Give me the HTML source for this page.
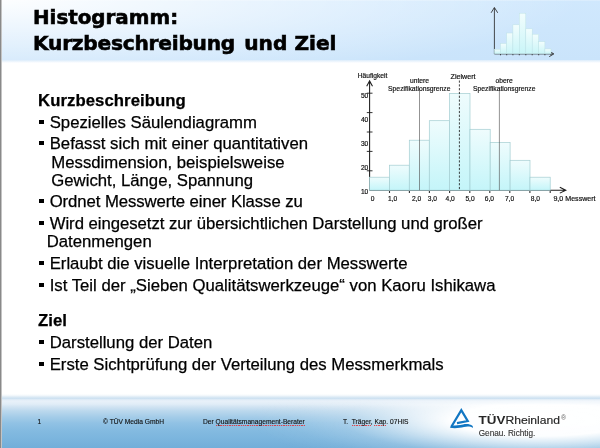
<!DOCTYPE html>
<html lang="de">
<head>
<meta charset="utf-8">
<title>Histogramm: Kurzbeschreibung und Ziel</title>
<style>
html,body{margin:0;padding:0;}
body{width:600px;height:448px;overflow:hidden;background:#fff;font-family:"Liberation Sans",sans-serif;color:#000;}
#slide{position:relative;width:600px;height:448px;overflow:hidden;background:#fff;}
#edge{position:absolute;left:0;top:0;width:3px;height:448px;background:linear-gradient(to right,#878787 0,#8c8c8c 1px,#c4c4c4 1.5px,rgba(230,230,230,.5) 2px,rgba(255,255,255,0) 2.4px);z-index:5;}
#head{position:absolute;left:0;top:0;width:600px;height:59.5px;background:linear-gradient(to bottom,rgba(255,255,255,.35) 0,rgba(255,255,255,0) 1.5px),radial-gradient(ellipse 580px 84px at 0 0,rgba(255,255,255,.95),rgba(255,255,255,0)),linear-gradient(to bottom,#d0e8fd,#cae4fb);}
#headfade{position:absolute;left:0;top:59.5px;width:600px;height:3px;background:linear-gradient(to bottom,#dcecfb,#fff);}
h1{position:absolute;margin:0;left:33.2px;top:5.8px;font-family:"DejaVu Sans","Liberation Sans",sans-serif;font-weight:bold;font-size:20.1px;line-height:25.8px;white-space:nowrap;-webkit-text-stroke:0.6px #000;}
h1 span{display:block;transform-origin:0 0;}
h1 span.w{display:inline;letter-spacing:-.23px;margin-right:2.2px;}
h1 .l1{transform:translateY(-.6px) scaleX(.988);}
h1 .l2{transform:translateY(-.9px) scaleX(1.003);}
.t{-webkit-text-stroke:.25px #000;position:absolute;white-space:nowrap;font-size:16.73px;line-height:20px;height:20px;}
.b{font-weight:bold;letter-spacing:.07px;}
.bul{position:absolute;width:4.5px;height:4.5px;background:#000;left:39px;margin-top:-.1px;}
#foot{position:absolute;left:0;top:394px;width:600px;height:54px;
 background:linear-gradient(to bottom,#fff 0,#f2f7fb 1.5px,#dceaf5 3px,#cde1f1 4.4px,#deebf6 5.6px,#e8f1f9 7px,#e1edf7 10px,#d0e3f2 13px,#bbd8ed 17px,#a4cce8 23px,#91c2e4 29px,#83bae0 37px,#7ab4dd 46px,#72aed9 54px);}
#footglow{position:absolute;left:0;top:394px;width:600px;height:54px;
 background:radial-gradient(ellipse 290px 52px at 540px 26px,rgba(255,255,255,1) 0,rgba(255,255,255,.98) 31%,rgba(255,255,255,.62) 48%,rgba(255,255,255,.4) 58%,rgba(255,255,255,.2) 68%,rgba(255,255,255,.06) 85%,rgba(255,255,255,0) 100%);
 -webkit-mask-image:linear-gradient(to bottom,transparent 0,transparent 4.4px,rgba(0,0,0,.55) 7px,#000 11px);mask-image:linear-gradient(to bottom,transparent 0,transparent 4.4px,rgba(0,0,0,.55) 7px,#000 11px);}
.f{position:absolute;white-space:nowrap;font-size:6.67px;line-height:10px;top:417.2px;color:#111;-webkit-text-stroke:.12px #111;}
.sq{background:repeating-linear-gradient(90deg,#e8262a 0,#e8262a 1px,rgba(232,38,42,.25) 1px,rgba(232,38,42,.25) 1.8px) 0 6.9px/100% .8px no-repeat;}
svg{position:absolute;left:0;top:0;}
svg text{font-family:"Liberation Sans",sans-serif;}
</style>
</head>
<body>
<div id="slide">
  <div id="head"></div>
  <div id="headfade"></div>
  <h1><span class="l1">Histogramm:</span><span class="l2"><span class="w">Kurzbeschreibung</span> und Ziel</span></h1>

  <div class="t b" style="left:38px;top:90.7px">Kurzbeschreibung</div>
  <i class="bul" style="top:120.0px"></i><div class="t" style="left:49.7px;top:112.7px">Spezielles Säulendiagramm</div>
  <i class="bul" style="top:141.0px"></i><div class="t" style="left:49.7px;top:133.7px">Befasst sich mit einer quantitativen</div>
  <div class="t" style="left:51.3px;top:152.7px">Messdimension, beispielsweise</div>
  <div class="t" style="left:51.3px;top:170.7px">Gewicht, Länge, Spannung</div>
  <i class="bul" style="top:199.0px"></i><div class="t" style="left:49.7px;top:191.7px;letter-spacing:-.08px">Ordnet Messwerte einer Klasse zu</div>
  <i class="bul" style="top:221.0px"></i><div class="t" style="left:49.7px;top:213.7px;letter-spacing:-.035px">Wird eingesetzt zur übersichtlichen Darstellung und großer</div>
  <div class="t" style="left:46.7px;top:231.7px">Datenmengen</div>
  <i class="bul" style="top:261.0px"></i><div class="t" style="left:49.7px;top:253.7px">Erlaubt die visuelle Interpretation der Messwerte</div>
  <i class="bul" style="top:283.0px"></i><div class="t" style="left:49.7px;top:275.7px">Ist Teil der „Sieben Qualitätswerkzeuge“ von Kaoru Ishikawa</div>

  <div class="t b" style="left:38px;top:310.7px">Ziel</div>
  <i class="bul" style="top:340.0px"></i><div class="t" style="left:49.7px;top:332.7px">Darstellung der Daten</div>
  <i class="bul" style="top:362.0px"></i><div class="t" style="left:49.7px;top:354.7px">Erste Sichtprüfung der Verteilung des Messmerkmals</div>

  <div id="foot"></div>
  <div id="footglow"></div>
  <div class="f" style="left:37.5px">1</div>
  <div class="f" style="left:103px">© TÜV Media GmbH</div>
  <div class="f" style="left:203px">Der <span class="sq">Qualitätsmanagement-Berater</span></div>
  <div class="f" style="left:343px">T.&nbsp; <span class="sq">Träger</span>, <span class="sq">Kap</span>. 07HIS</div>

  <svg width="600" height="448" viewBox="0 0 600 448">
    <defs>
      <linearGradient id="bg" x1="0" y1="0" x2="0" y2="1">
        <stop offset="0" stop-color="#effcfd"/><stop offset="1" stop-color="#c4f5f9"/>
      </linearGradient>
      <linearGradient id="bg2" x1="0" y1="0" x2="0" y2="1">
        <stop offset="0" stop-color="#f2fdfd"/><stop offset="1" stop-color="#c9f5f8"/>
      </linearGradient>
    </defs>
    <!-- header mini chart -->
    <g stroke="#2a2a2a" stroke-width=".85" fill="none">
      <path d="M494.4 54V7.8M491.1 12.8L494.4 7.5L497.7 12.8"/>
      <path d="M494.4 53.9H553.4M549.2 51.1L553.8 53.9L549.2 56.7"/>
      <path d="M500.5 54v1.3M506.7 54v1.3M512.9 54v1.3M519.3 54v1.3M525.8 54v1.3M532.2 54v1.3M538.7 54v1.3M544.9 54v1.3M551 54v1.3" stroke-width=".8"/>
    </g>
    <g stroke="#bfe3e6" stroke-width=".5" fill="url(#bg2)">
      <rect x="494.4" y="49.2" width="6.1" height="4.5"/>
      <rect x="500.5" y="43.5" width="6.2" height="10.2"/>
      <rect x="506.7" y="33" width="6.2" height="20.7"/>
      <rect x="512.9" y="24.8" width="6.4" height="28.9"/>
      <rect x="519.3" y="13.2" width="6.5" height="40.5"/>
      <rect x="525.8" y="28.8" width="6.4" height="24.9"/>
      <rect x="532.2" y="34.2" width="6.5" height="19.5"/>
      <rect x="538.7" y="41.7" width="6.2" height="12"/>
      <rect x="544.9" y="48.9" width="6.1" height="4.8"/>
    </g>

    <!-- main chart -->
    <g stroke="#1c1c1c" stroke-width="1.05" fill="none">
      <path d="M369.6 190.2V81.2M366.7 86.2L369.6 80.9L372.5 86.2"/>
      <path d="M369.6 190.2H565.4M559.8 187.3L565.8 190.2L559.8 193.1"/>
      <path d="M366.8 93.2h5.7M366.8 112.6h5.7M366.8 132h5.7M366.8 151.4h5.7M366.8 170.8h5.7" stroke-width=".9"/>
      <path d="M389.5 190.5v2.4M409.4 190.5v2.4M429.4 190.5v2.4M449.6 190.5v2.4M469.8 190.5v2.4M489.8 190.5v2.4M509.8 190.5v2.4M529.9 190.5v2.4M550.2 190.5v2.4" stroke-width="1.1" stroke="#333"/>
    </g>
    <g stroke="#a3cdd1" stroke-width=".7" fill="url(#bg)">
      <rect x="369.6" y="177.2" width="19.8" height="13"/>
      <rect x="389.4" y="165.2" width="19.9" height="25"/>
      <rect x="409.3" y="140.2" width="20" height="50"/>
      <rect x="429.3" y="120.7" width="20.1" height="69.5"/>
      <rect x="449.4" y="93.4" width="20.6" height="96.8"/>
      <rect x="470" y="129.3" width="20.2" height="60.9"/>
      <rect x="490.2" y="142.5" width="19.9" height="47.7"/>
      <rect x="510.1" y="160.3" width="19.9" height="29.9"/>
      <rect x="530" y="177.2" width="20.2" height="13"/>
    </g>
    <g stroke="#4a4a4a" stroke-width=".6" fill="none">
      <path d="M419.5 88V190.2M499.4 88V190.2"/>
      <path d="M459.4 80.5V190.2" stroke="#111" stroke-dasharray="2.2 1.6" stroke-width=".8"/>
    </g>
    <g font-size="6.67" fill="#111" stroke="#111" stroke-width=".18">
      <text x="357.7" y="78">Häufigkeit</text>
      <text x="419.5" y="83.4" text-anchor="middle">untere</text>
      <text x="388.1" y="91" textLength="62.4" lengthAdjust="spacingAndGlyphs">Spezifikationsgrenze</text>
      <text x="450.6" y="78.8" textLength="25" lengthAdjust="spacingAndGlyphs">Zielwert</text>
      <text x="504.1" y="83.4" text-anchor="middle">obere</text>
      <text x="473" y="91" textLength="62.4" lengthAdjust="spacingAndGlyphs">Spezifikationsgrenze</text>
      <text x="368.3" y="97.7" text-anchor="end">50</text>
      <text x="368.3" y="122" text-anchor="end">40</text>
      <text x="368.3" y="145.8" text-anchor="end">30</text>
      <text x="368.3" y="170.2" text-anchor="end">20</text>
      <text x="368.3" y="194.2" text-anchor="end">10</text>
      <text x="370.8" y="201.3">0</text>
      <text x="388" y="201.3">1,0</text>
      <text x="412" y="201.3">2,0</text>
      <text x="427.8" y="201.3">3,0</text>
      <text x="445.5" y="201.3">4,0</text>
      <text x="465.4" y="201.3">5,0</text>
      <text x="484.7" y="201.3">6,0</text>
      <text x="504.9" y="201.3">7,0</text>
      <text x="530.8" y="201.3">8,0</text>
      <text x="553.4" y="201.3" textLength="42.2" lengthAdjust="spacingAndGlyphs">9,0 Messwert</text>
    </g>

    <!-- TÜV Rheinland logo -->
    <g fill="none" stroke="#1277c3" stroke-width="2.25" stroke-linejoin="miter" stroke-miterlimit="8">
      <path d="M451.2 427L461.3 410.2L467.7 421L457 423.2"/>
    </g>
    <path fill="#1277c3" d="M449.8 427.8C455 428.6 460 428 464 427C467.5 426.1 470.5 426.3 473 428L472.7 425.9C470 424 466.5 423.8 463 424.4C459 425.1 456 425.5 452 425.5Z"/>
    <text x="478.6" y="423.9" font-size="10.8" font-weight="bold" fill="#262626" textLength="26.8" lengthAdjust="spacingAndGlyphs">TÜV</text>
    <text x="505.4" y="423.9" font-size="10.8" fill="#262626" stroke="#262626" stroke-width=".15" textLength="54.7" lengthAdjust="spacingAndGlyphs">Rheinland</text>
    <text x="560.9" y="420.3" font-size="7" fill="#666">®</text>
    <text x="478.7" y="435.9" font-size="8.4" fill="#333" stroke="#333" stroke-width=".12" textLength="56.6" lengthAdjust="spacingAndGlyphs">Genau. Richtig.</text>
  </svg>
  <div id="edge"></div>
</div>
</body>
</html>
